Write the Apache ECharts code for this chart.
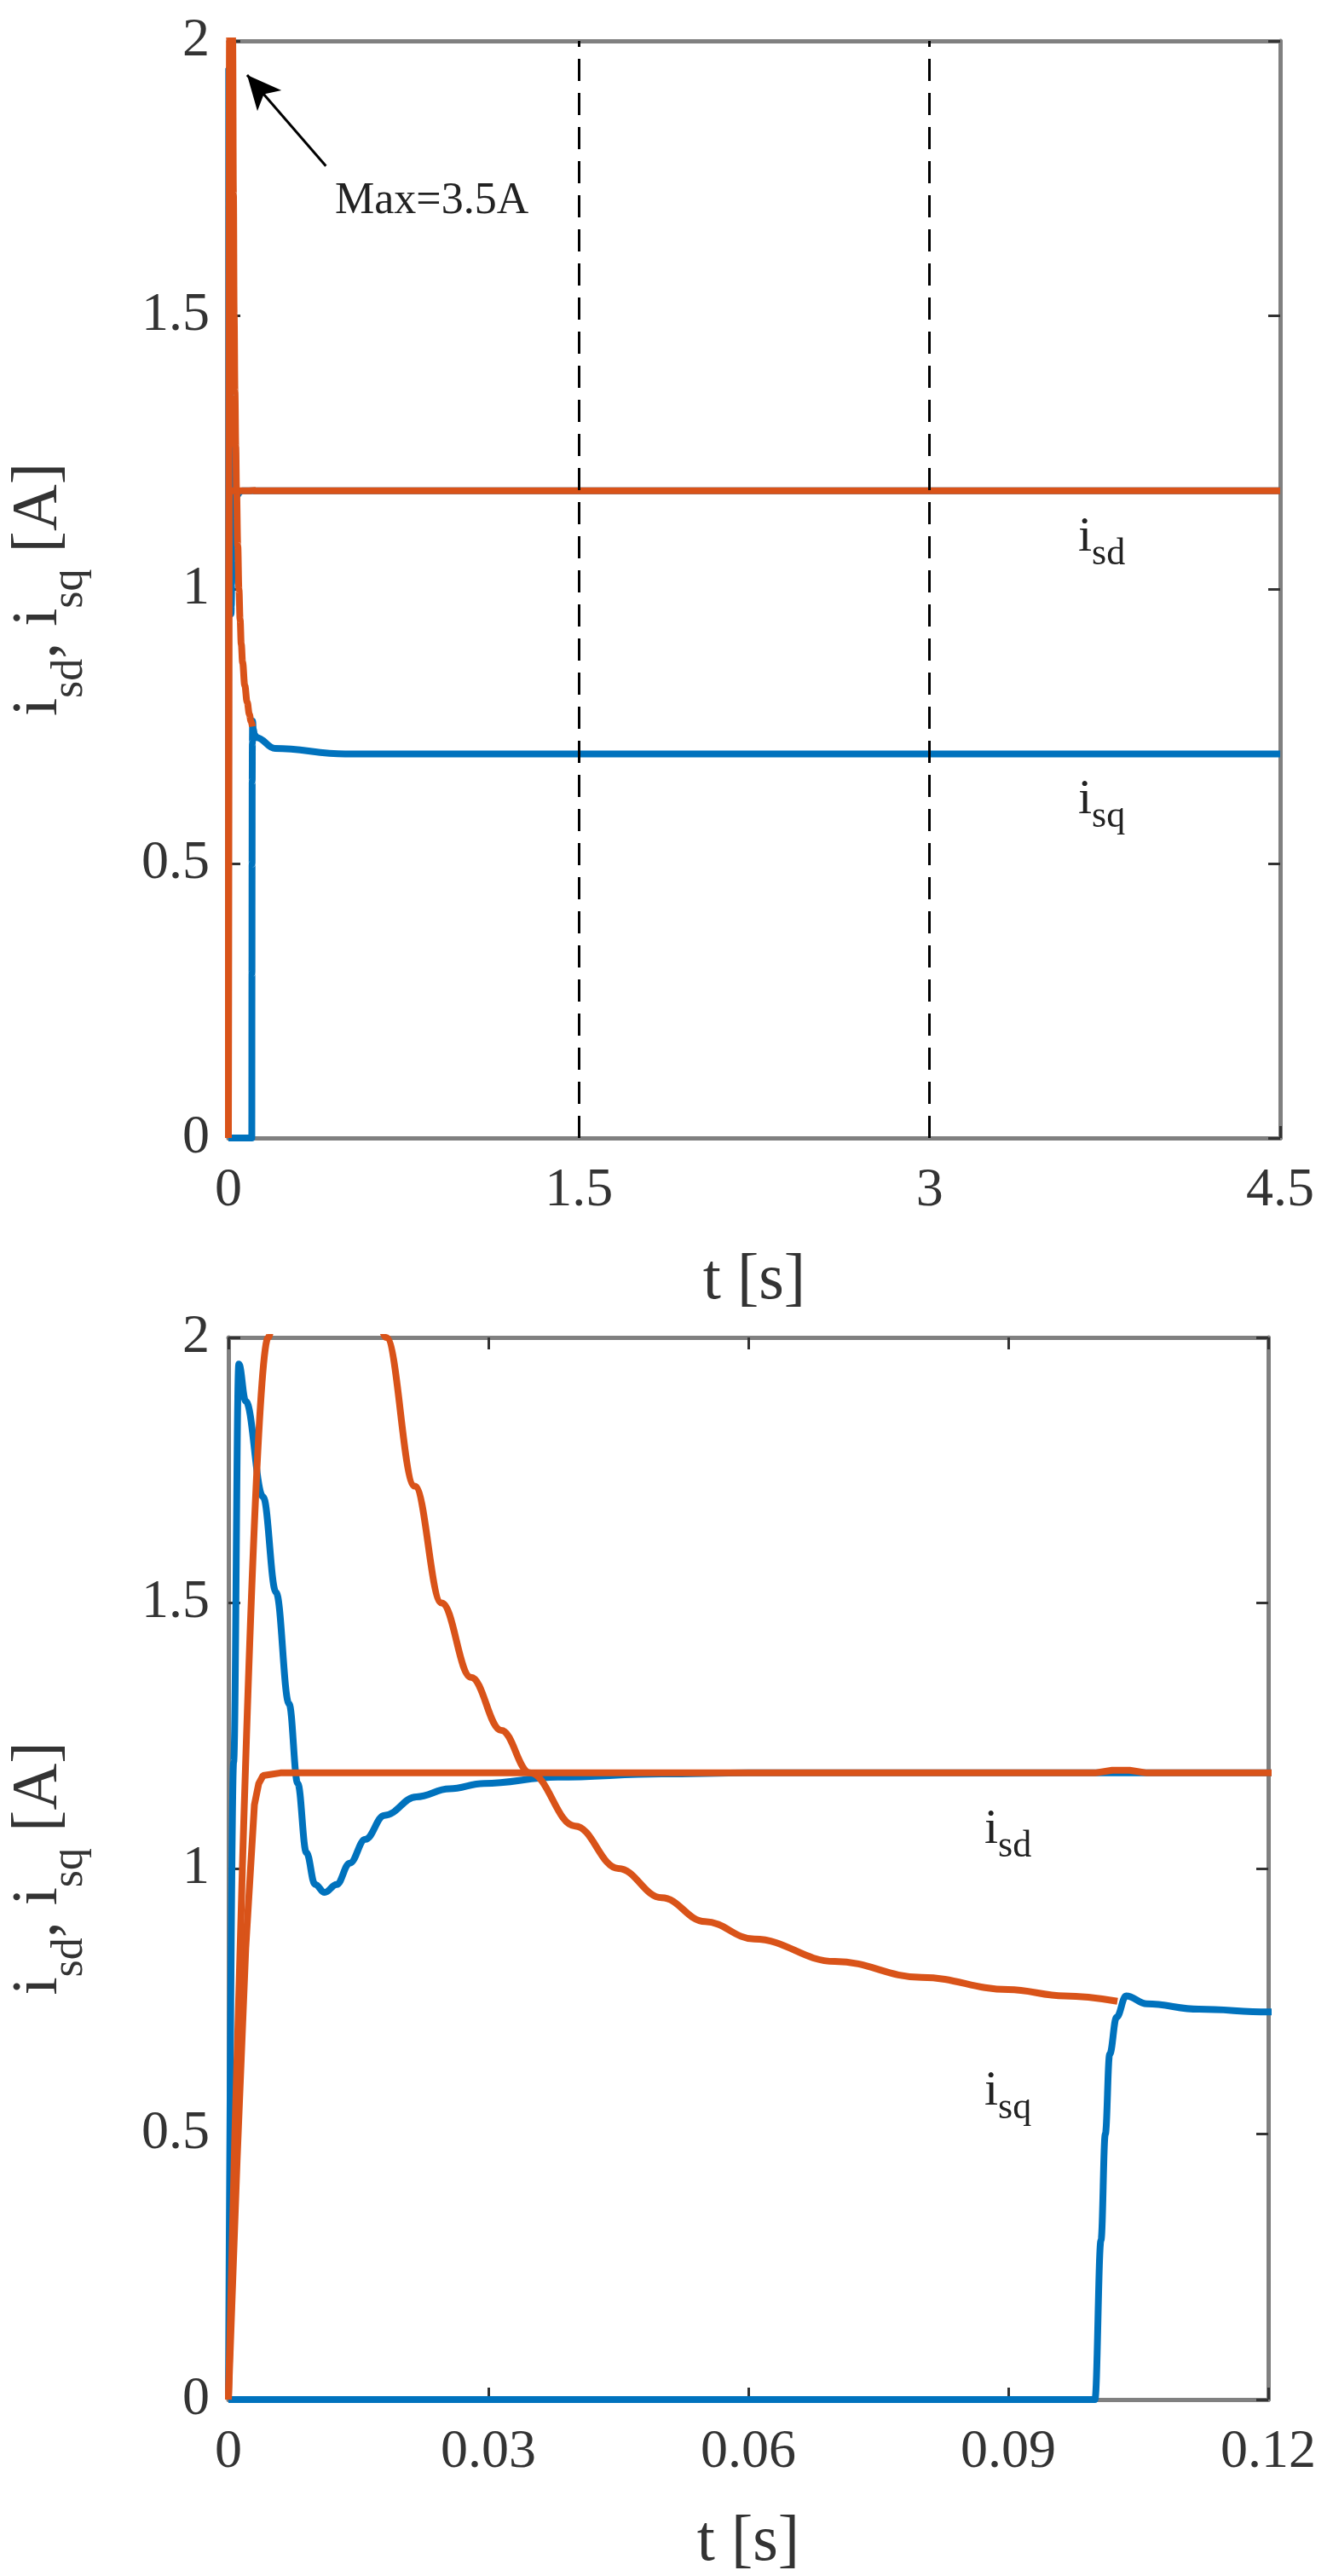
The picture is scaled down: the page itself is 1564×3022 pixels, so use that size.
<!DOCTYPE html>
<html>
<head>
<meta charset="utf-8">
<script src="https://cdn.jsdelivr.net/npm/echarts@6/dist/echarts.min.js"></script>
<style>
  html, body { margin: 0; padding: 0; background: #fff; }
  #chart { width: 1564px; height: 3022px; }
</style>
</head>
<body>
<div id="chart"></div>
<script>
// i_sd (orange, settles at 1.18 A)
var isdT = [0, 0.001, 0.002, 0.003, 0.0035, 0.004, 0.006, 0.05, 0.1, 0.102, 0.104, 0.106, 4.5];
var isdV = [0, 0.45, 0.85, 1.12, 1.16, 1.175, 1.18, 1.18, 1.18, 1.185, 1.185, 1.18, 1.18];

// current limit curve (orange, peak 3.5 A)
var limT = [0, 0.0046, 0.008, 0.01, 0.013, 0.0182, 0.0215, 0.0246, 0.028, 0.0315, 0.0348, 0.04, 0.045, 0.05, 0.055, 0.0607, 0.07, 0.08, 0.09, 0.0965, 0.1026];
var limV = [0, 2.0, 3.2, 3.5, 3.0, 2.0, 1.72, 1.5, 1.36, 1.26, 1.18, 1.08, 1.0, 0.945, 0.9, 0.867, 0.825, 0.795, 0.772, 0.76, 0.75];

// i_sq transient part (blue)
var iqAT = [0, 0.0006, 0.0012, 0.002, 0.004, 0.0055, 0.007, 0.008, 0.009, 0.01, 0.0111, 0.0125, 0.014, 0.0158, 0.018, 0.0217, 0.0255, 0.0295, 0.038, 0.05, 0.06, 0.12, 4.5];
var iqAV = [0, 1.2, 1.95, 1.88, 1.7, 1.52, 1.31, 1.16, 1.03, 0.97, 0.955, 0.97, 1.01, 1.055, 1.1, 1.135, 1.15, 1.16, 1.172, 1.178, 1.18, 1.18, 1.18];

// i_sq after 0.1 s (blue)
var iqBT = [0, 0.1, 0.1007, 0.1012, 0.1017, 0.1025, 0.1036, 0.106, 0.112, 0.12, 0.2, 0.5, 4.5];
var iqBV = [0, 0, 0.3, 0.5, 0.65, 0.72, 0.76, 0.745, 0.735, 0.73, 0.71, 0.70, 0.70];

var yTicks = [0, 0.5, 1, 1.5, 2];
var xTicksTop = [0, 1.5, 3, 4.5];
var xTicksBot = [0, 0.03, 0.06, 0.09, 0.12];

var orange = "#D95319";
var blue = "#0072BD";
var frame = "#808080";
var font = "Liberation Serif";

function pairs(t, v) {
  return t.map(function (x, i) { return [x, v[i]]; });
}

function fmt(v) {
  return String(+v.toFixed(2));
}

var grids = [
  { left: 260, top: 48, width: 1242, height: 1287 },
  { left: 258, top: 1569, width: 1230, height: 1274 }
];

var xAxes = [];
var yAxes = [];
[[4.5, 1.5], [0.12, 0.03]].forEach(function (ax, g) {
  xAxes.push({
    gridIndex: g, type: "value", min: 0, max: ax[0], interval: ax[1],
    name: "t [s]", nameLocation: "middle", nameGap: 130,
    nameTextStyle: { fontFamily: font, fontSize: 76, color: "#333" },
    axisLine: { onZero: false, lineStyle: { color: frame, width: 5 } },
    axisTick: { inside: true, length: 14, lineStyle: { color: "#333", width: 3 } },
    axisLabel: { fontFamily: font, fontSize: 64, color: "#333", margin: 30, formatter: fmt },
    splitLine: { show: false }
  });
  xAxes.push({
    gridIndex: g, type: "value", min: 0, max: ax[0], interval: ax[1], position: "top",
    axisLine: { onZero: false, lineStyle: { color: frame, width: 5 } },
    axisTick: { show: g === 1, inside: true, length: 14, lineStyle: { color: "#333", width: 3 } },
    axisLabel: { show: false }, splitLine: { show: false }
  });
  yAxes.push({
    gridIndex: g, type: "value", min: 0, max: 2, interval: 0.5,
    name: "{i|i}{s|sd}{i|, i}{s|sq}{i| [A]}", nameLocation: "middle", nameGap: 160,
    nameTextStyle: {
      rich: {
        i: { fontFamily: font, fontSize: 76, color: "#333", lineHeight: 100, verticalAlign: "top" },
        s: { fontFamily: font, fontSize: 52, color: "#333", lineHeight: 100, verticalAlign: "bottom", padding: [40, 0, 0, 0] }
      }
    },
    axisLine: { onZero: false, lineStyle: { color: frame, width: 5 } },
    axisTick: { inside: true, length: 14, lineStyle: { color: "#333", width: 3 } },
    axisLabel: { fontFamily: font, fontSize: 64, color: "#333", margin: 22, formatter: fmt },
    splitLine: { show: false }
  });
  yAxes.push({
    gridIndex: g, type: "value", min: 0, max: 2, interval: 0.5, position: "right",
    axisLine: { onZero: false, lineStyle: { color: frame, width: 5 } },
    axisTick: { inside: true, length: 14, lineStyle: { color: "#333", width: 3 } },
    axisLabel: { show: false }, splitLine: { show: false }
  });
});

var series = [];
[0, 1].forEach(function (g) {
  var xi = g * 2, yi = g * 2;
  function line(t, v, color, z, smooth) {
    return {
      type: "line", xAxisIndex: xi, yAxisIndex: yi, data: pairs(t, v),
      showSymbol: false, clip: true, z: z, animation: false,
      smooth: smooth ? 0.4 : false, smoothMonotone: "x",
      lineStyle: { color: color, width: 8 }
    };
  }
  series.push(line(iqAT, iqAV, blue, 2, true));
  series.push(line(iqBT, iqBV, blue, 2, true));
  series.push(line(isdT, isdV, orange, 3, false));
  var lim = line(limT, limV, orange, 3, true);
  if (g === 0) {
    lim.markLine = {
      silent: true, symbol: ["none", "arrow"], symbolSize: [28, 40],
      label: { show: false },
      lineStyle: { color: "#000", width: 3, type: "solid" },
      data: [[{ coord: [0.417, 1.772] }, { coord: [0.08, 1.938] }]]
    };
    series.push(lim);
    series.push({
      type: "line", xAxisIndex: 0, yAxisIndex: 0, data: [], z: 1,
      markLine: {
        silent: true, symbol: "none", label: { show: false },
        lineStyle: { color: "#000", width: 3, type: [26, 14] },
        data: [{ xAxis: 1.5 }, { xAxis: 3 }]
      }
    });
  } else {
    series.push(lim);
  }
});

function subLabel(x, y, sub) {
  return {
    type: "text", left: x, top: y,
    style: {
      text: "{i|i}{s|" + sub + "}",
      rich: {
        i: { fontFamily: font, fontSize: 58, fill: "#222", lineHeight: 70, verticalAlign: "top" },
        s: { fontFamily: font, fontSize: 44, fill: "#222", lineHeight: 70, verticalAlign: "bottom", padding: [36, 0, 0, 0] }
      }
    }
  };
}

var chart = echarts.init(document.getElementById("chart"));
chart.setOption({
  backgroundColor: "#fff",
  animation: false,
  grid: grids,
  xAxis: xAxes,
  yAxis: yAxes,
  series: series,
  graphic: [
    { type: "text", left: 393, top: 210, style: { text: "Max=3.5A", fontFamily: font, fontSize: 52, fill: "#222" } },
    subLabel(1265, 592, "sd"),
    subLabel(1265, 900, "sq"),
    subLabel(1155, 2108, "sd"),
    subLabel(1155, 2415, "sq")
  ]
});
</script>
</body>
</html>
